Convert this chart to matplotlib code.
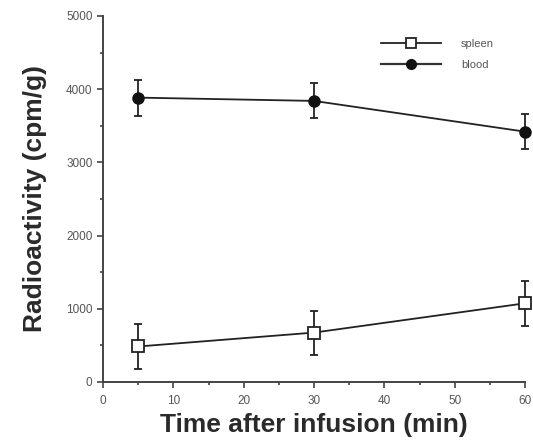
import matplotlib.pyplot as plt
from matplotlib.lines import Line2D
from matplotlib.ticker import MultipleLocator

# Data
times = [5, 30, 60]
spleen = [485, 675, 1075]
spleen_err = [310, 300, 310]
blood = [3885, 3840, 3420]
blood_err = [245, 240, 240]

plt.rcParams['font.family'] = ['Liberation Sans', 'DejaVu Sans']

fig = plt.figure(figsize=(5.33, 4.43), dpi=100)
ax = fig.add_axes([103 / 533, 61 / 443, 422 / 533, 366 / 443])

line_kw = dict(color='#222222', lw=1.3, capsize=3, elinewidth=1.3,
               capthick=1.3, clip_on=False, zorder=3)
sp = ax.errorbar(times, spleen, yerr=spleen_err, marker='s', ms=8,
                 mfc='white', mec='#222222', mew=1.3, **line_kw)
bl = ax.errorbar(times, blood, yerr=blood_err, marker='o', ms=8,
                 mfc='#111111', mec='#111111', **line_kw)
for cont in (sp, bl):
    for art in cont.lines[1] + cont.lines[2]:
        art.set_clip_on(False)

ax.set_xlim(0, 60)
ax.set_ylim(0, 5000)
ax.xaxis.set_major_locator(MultipleLocator(10))
ax.xaxis.set_minor_locator(MultipleLocator(5))
ax.yaxis.set_major_locator(MultipleLocator(1000))
ax.yaxis.set_minor_locator(MultipleLocator(500))

for side in ['top', 'right']:
    ax.spines[side].set_visible(False)
for side in ['left', 'bottom']:
    ax.spines[side].set_linewidth(1.4)
    ax.spines[side].set_color('#444444')

ax.tick_params(axis='both', which='major', length=4, width=1.2,
               color='#444444', labelsize=8.5, labelcolor='#555555')
ax.tick_params(axis='both', which='minor', length=2, width=1.2,
               color='#444444')
ax.tick_params(axis='x', pad=5)

ax.set_xlabel('Time after infusion (min)', fontsize=19, fontweight='bold',
              color='#2a2a2a', labelpad=5)
ax.set_ylabel('Radioactivity (cpm/g)', fontsize=19, fontweight='bold',
              color='#2a2a2a', labelpad=14)

handles = [
    Line2D([], [], color='#222222', lw=1.3, marker='s', ms=7, mfc='white',
           mec='#222222', mew=1.3),
    Line2D([], [], color='#333333', lw=1.6, marker='o', ms=7, mfc='#111111',
           mec='#111111'),
]
leg = ax.legend(handles, ['spleen', 'blood'], loc='upper left',
                bbox_to_anchor=(0.635, 0.965), frameon=False, fontsize=8,
                handlelength=5.4, labelspacing=1.0, handletextpad=1.8)
for t in leg.get_texts():
    t.set_color('#555555')

fig.savefig('out.png', dpi=100)
